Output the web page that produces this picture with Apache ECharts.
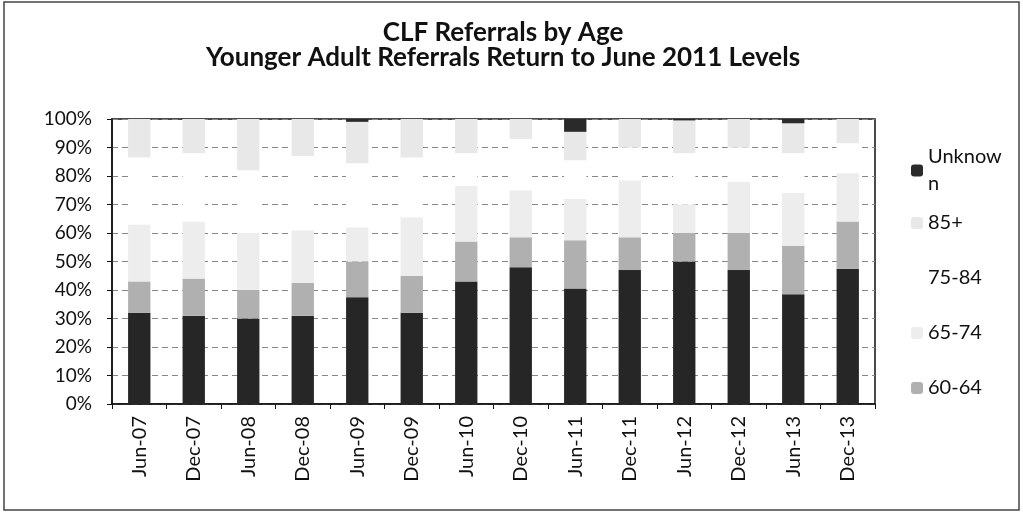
<!DOCTYPE html>
<html>
<head>
<meta charset="utf-8">
<script src="https://cdn.jsdelivr.net/npm/echarts@6/dist/echarts.min.js"></script>
<style>
  html, body { margin: 0; padding: 0; background: #fff; }
  #chart { width: 1023px; height: 514px; }
</style>
</head>
<body>
<div id="chart"></div>
<script>
// categories (half-year snapshots)
const categories = ["Jun-07", "Dec-07", "Jun-08", "Dec-08", "Jun-09", "Dec-09", "Jun-10",
  "Dec-10", "Jun-11", "Dec-11", "Jun-12", "Dec-12", "Jun-13", "Dec-13"];

// share of referrals per age band, %
const under60 = [32, 31, 30, 31, 37.5, 32, 43, 48, 40.5, 47, 50, 47, 38.5, 47.5];
const age6064 = [11, 13, 10, 11.5, 12.5, 13, 14, 10.5, 17, 11.5, 10, 13, 17, 16.5];
const age6574 = [20, 20, 20, 18.5, 12, 20.5, 19.5, 16.5, 14.5, 20, 10, 18, 18.5, 17];
const age7584 = [23.5, 24, 22, 26, 22.5, 21, 11.5, 18, 13.5, 11.5, 18, 12, 14, 10.5];
const age85 = [13.5, 12, 18, 13, 14.5, 13.5, 12, 7, 10, 10, 11.5, 10, 10.5, 8.5];
const unknown = [0, 0, 0, 0, 1, 0, 0, 0, 4.5, 0, 0.5, 0, 1.5, 0];

const yTicks = [0, 10, 20, 30, 40, 50, 60, 70, 80, 90, 100];

const font = "Lato, 'Open Sans', sans-serif";

let chart = echarts.init(document.getElementById("chart"));

function bar(name, data, color) {
  return {
    name: name,
    type: "bar",
    stack: "age",
    data: data,
    barWidth: "41%",
    itemStyle: { color: color },
  };
}

chart.setOption({
  animation: false,
  title: {
    text: "CLF Referrals by Age\nYounger Adult Referrals Return to June 2011 Levels",
    left: 498,
    top: 15,
    textAlign: "center",
    textStyle: {
      fontFamily: font,
      fontSize: 26,
      fontWeight: "bold",
      lineHeight: 25,
      color: "#111",
    },
  },
  // Excel wraps "Unknown" in the narrow legend box, so it sits in its own legend
  legend: [
    {
      orient: "vertical",
      left: 906,
      top: 125,
      data: ["Unknown"],
      formatter: function () { return "Unknow\nn"; },
      itemWidth: 12,
      itemHeight: 12,
      textStyle: {
        fontFamily: font, fontSize: 20, lineHeight: 27, color: "#111",
        padding: [27, 0, 0, 0],
      },
    },
    {
      orient: "vertical",
      left: 906,
      top: 207,
      data: ["85+", "75-84", "65-74", "60-64"],
      itemGap: 33,
      itemWidth: 12,
      itemHeight: 12,
      textStyle: { fontFamily: font, fontSize: 20, lineHeight: 22, color: "#111" },
    },
  ],
  grid: {
    left: 112,
    right: 148,
    top: 119,
    bottom: 110,
    show: true,
    borderColor: "#111",
    borderWidth: 1.5,
  },
  xAxis: {
    type: "category",
    data: categories,
    axisLine: { lineStyle: { color: "#111", width: 1.5 } },
    axisTick: { show: true, length: 5, lineStyle: { color: "#111" } },
    axisLabel: {
      rotate: 90,
      fontFamily: font,
      fontSize: 20,
      color: "#111",
      margin: 12,
    },
  },
  yAxis: {
    type: "value",
    min: yTicks[0],
    max: yTicks[yTicks.length - 1],
    interval: 10,
    axisLine: { show: true, lineStyle: { color: "#111", width: 1.5 } },
    axisTick: { show: true, length: 5, lineStyle: { color: "#111" } },
    axisLabel: {
      formatter: "{value}%",
      fontFamily: font,
      fontSize: 19,
      color: "#111",
      margin: 20,
    },
    splitLine: { lineStyle: { color: "#888", type: [6, 4], width: 1 } },
  },
  series: [
    bar("Under 60", under60, "#262626"),
    bar("60-64", age6064, "#b0b0b0"),
    bar("65-74", age6574, "#ededed"),
    bar("75-84", age7584, "#ffffff"),
    bar("85+", age85, "#e8e8e8"),
    bar("Unknown", unknown, "#2a2a2a"),
  ],
  graphic: [
    {
      type: "rect",
      shape: { x: 4, y: 2, width: 1015, height: 508 },
      style: { fill: "none", stroke: "#444", lineWidth: 1.5 },
      silent: true,
    },
  ],
});

window.addEventListener("resize", function () {
  chart.resize();
});
</script>
</body>
</html>
